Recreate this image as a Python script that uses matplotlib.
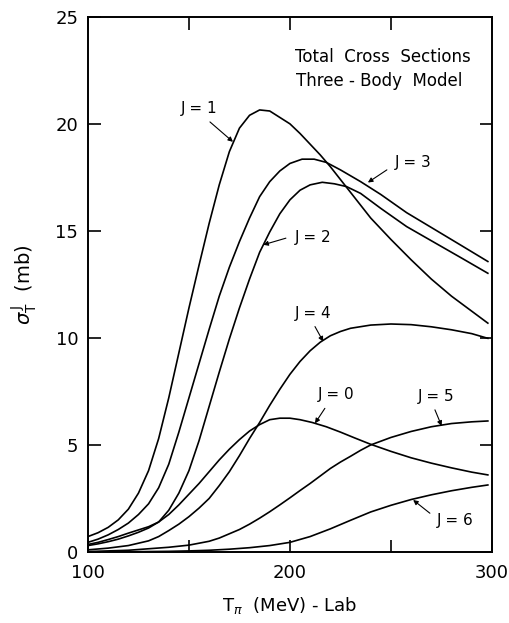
import matplotlib
matplotlib.use('Agg')
import matplotlib.pyplot as plt

# pion lab kinetic energy (MeV) and partial cross sections (mb)
x_j0 = [100, 105, 110, 115, 120, 125, 130, 135, 140, 145, 150, 155, 160, 165, 170, 175, 180,
        185, 190, 195, 200, 205, 211, 218, 225, 232, 240, 250, 260, 270, 280, 290, 298]
y_j0 = [0.35, 0.45, 0.58, 0.72, 0.88, 1.03, 1.18, 1.4, 1.75, 2.2, 2.7, 3.2, 3.75, 4.3, 4.8,
        5.25, 5.65, 5.95, 6.18, 6.25, 6.25, 6.18, 6.05, 5.85, 5.6, 5.33, 5.03, 4.7, 4.4, 4.15,
        3.93, 3.73, 3.6]

x_j1 = [100, 105, 110, 115, 120, 125, 130, 135, 140, 145, 150, 155, 160, 165, 170, 175, 180,
        185, 190, 195, 200, 205, 210, 215, 220, 225, 230, 235, 240, 250, 260, 270, 280, 290, 298]
y_j1 = [0.72, 0.9, 1.15, 1.5, 2.0, 2.75, 3.8, 5.3, 7.2, 9.3, 11.4, 13.4, 15.35, 17.15, 18.7,
        19.8, 20.4, 20.65, 20.6, 20.3, 20.0, 19.55, 19.05, 18.55, 18.0, 17.4, 16.8, 16.2, 15.6,
        14.6, 13.65, 12.75, 11.95, 11.25, 10.69]

x_j2 = [100, 105, 110, 115, 120, 125, 130, 135, 140, 145, 150, 155, 160, 165, 170, 175, 180,
        185, 190, 195, 200, 205, 210, 216, 222, 228, 235, 245, 257.8, 270, 285, 298]
y_j2 = [0.3, 0.38, 0.48, 0.6, 0.75, 0.92, 1.12, 1.4, 1.95, 2.75, 3.8, 5.2, 6.8, 8.4, 9.95,
        11.4, 12.75, 14.0, 14.95, 15.8, 16.45, 16.9, 17.15, 17.27, 17.2, 17.07, 16.75, 16.05,
        15.2, 14.54, 13.73, 13.02]

x_j3 = [100, 105, 110, 115, 120, 125, 130, 135, 140, 145, 150, 155, 160, 165, 170, 175, 180,
        185, 190, 195, 200, 206, 212, 218, 225, 235, 245, 257.8, 270, 285, 298]
y_j3 = [0.45, 0.6, 0.8, 1.05, 1.35, 1.75, 2.25, 3.0, 4.1, 5.6, 7.2, 8.8, 10.4, 11.95, 13.3,
        14.5, 15.6, 16.6, 17.3, 17.8, 18.15, 18.35, 18.35, 18.2, 17.85, 17.3, 16.7, 15.85,
        15.16, 14.31, 13.57]

x_j4 = [100, 110, 120, 130, 135, 140, 145, 150, 155, 160, 165, 170, 175, 180, 185, 190, 195,
        200, 205, 210, 215, 220, 225, 230, 240, 250, 260, 270, 280, 290, 298]
y_j4 = [0.1, 0.18, 0.3, 0.52, 0.72, 1.0, 1.3, 1.65, 2.05, 2.5, 3.1, 3.75, 4.5, 5.3, 6.05,
        6.85, 7.6, 8.3, 8.9, 9.4, 9.8, 10.1, 10.3, 10.45, 10.6, 10.65, 10.62, 10.52, 10.38,
        10.2, 9.98]

x_j5 = [100, 110, 120, 130, 140, 150, 160, 165, 170, 175, 180, 185, 190, 195, 200, 205, 210,
        215, 220, 225, 230, 235, 240, 250, 260, 270, 280, 290, 298]
y_j5 = [0.02, 0.05, 0.08, 0.15, 0.22, 0.32, 0.5, 0.65, 0.85, 1.05, 1.3, 1.58, 1.88, 2.2,
        2.53, 2.87, 3.2, 3.55, 3.9, 4.2, 4.47, 4.75, 5.0, 5.35, 5.63, 5.85, 6.0, 6.08, 6.12]

x_j6 = [100, 120, 140, 150, 160, 170, 180, 190, 200, 210, 220, 230, 240, 250, 260, 270, 280,
        290, 298]
y_j6 = [0.0, 0.01, 0.03, 0.05, 0.08, 0.13, 0.2, 0.3, 0.45, 0.72, 1.08, 1.48, 1.87, 2.18,
        2.45, 2.67, 2.86, 3.02, 3.13]

curves = [(x_j0, y_j0), (x_j1, y_j1), (x_j2, y_j2), (x_j3, y_j3),
          (x_j4, y_j4), (x_j5, y_j5), (x_j6, y_j6)]

# label text position, arrow start, arrow end
labels = [
    ('J = 1', (155, 20.7), (160.4, 20.09), (171.8, 19.16)),
    ('J = 3', (261, 18.18), (248, 17.85), (238.6, 17.26)),
    ('J = 2', (211.4, 14.67), (198, 14.66), (186.8, 14.35)),
    ('J = 4', (211.4, 11.15), (212.4, 10.53), (216.5, 9.83)),
    ('J = 0', (223.1, 7.34), (217.3, 6.71), (212.4, 6.01)),
    ('J = 5', (272.6, 7.26), (271.8, 6.64), (275.1, 5.89)),
    ('J = 6', (281.7, 1.46), (269.3, 1.81), (261, 2.43)),
]


def main():
    fig = plt.figure(figsize=(5.10, 6.23), dpi=100)
    ax = fig.add_axes([0.1725, 0.114, 0.792, 0.859])

    for x, y in curves:
        ax.plot(x, y, color='black', lw=1.2)

    for text, tpos, start, end in labels:
        ax.text(tpos[0], tpos[1], text, fontsize=11, ha='center', va='center')
        ax.annotate('', xy=end, xytext=start,
                    arrowprops=dict(arrowstyle='-|>', color='black', lw=0.8,
                                    mutation_scale=7, shrinkA=0, shrinkB=0))

    ax.text(245.9, 23.12, 'Total  Cross  Sections', fontsize=12, ha='center', va='center')
    ax.text(244.4, 22.0, 'Three - Body  Model', fontsize=12, ha='center', va='center')

    ax.set_xlim(100, 300)
    ax.set_ylim(0, 25)
    ax.set_xticks([100, 150, 200, 250, 300])
    ax.set_xticklabels(['100', '', '200', '', '300'])
    ax.set_yticks([0, 5, 10, 15, 20, 25])
    ax.tick_params(direction='in', length=9, width=1.2, labelsize=13,
                   top=True, right=True, pad=7)
    ax.tick_params(axis='x', pad=9)
    for s in ax.spines.values():
        s.set_linewidth(1.4)

    ax.set_xlabel(r'T$_{\pi}$  (MeV) - Lab', fontsize=13, labelpad=9)
    ax.set_ylabel(r'$\sigma^{\,\mathrm{J}}_{\mathrm{T}}$  (mb)', fontsize=14, labelpad=12)

    fig.savefig('out.png', dpi=100)


if __name__ == '__main__':
    main()
